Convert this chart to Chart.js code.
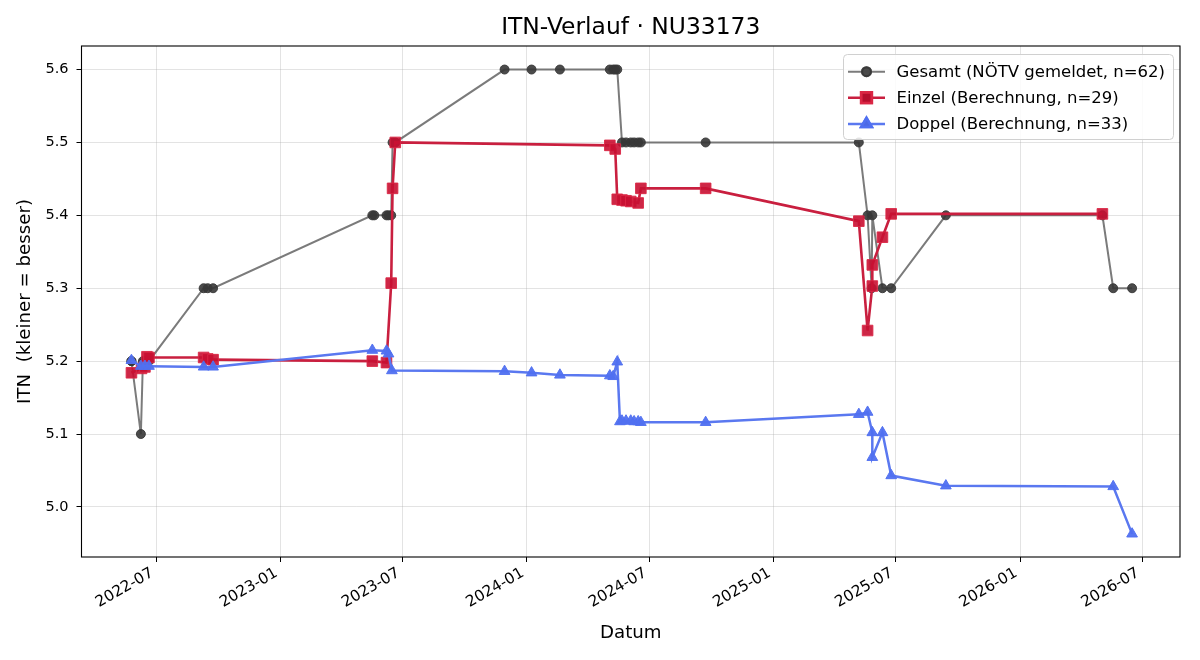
<!DOCTYPE html>
<html>
<head>
<meta charset="utf-8">
<script src="https://cdn.jsdelivr.net/npm/chart.js@4.4.1/dist/chart.umd.min.js"></script>
<style>
  html, body { margin: 0; padding: 0; background: #fff; }
  #wrap { width: 1200px; height: 660px; }
</style>
</head>
<body>
<div id="wrap"><canvas id="itnChart" width="1200" height="660"></canvas></div>
<script>
// --- data ---
const chartTitle = 'ITN-Verlauf · NU33173';
const xAxisTitle = 'Datum';
const yAxisTitle = 'ITN  (kleiner = besser)';

const xTickLabels = ['2022-07', '2023-01', '2023-07', '2024-01', '2024-07', '2025-01', '2025-07', '2026-01', '2026-07'];
const yTicks = [5.0, 5.1, 5.2, 5.3, 5.4, 5.5, 5.6];
const xRange = ['2022-03-12', '2026-08-26'];
const yRange = [4.9313, 5.6323];

const gesamtLabel = 'Gesamt (NÖTV gemeldet, n=62)';
const gesamtDates = [
    '2022-05-25', '2022-05-25', '2022-06-08', '2022-06-11', '2022-06-14', '2022-06-17', '2022-06-20',
    '2022-09-09', '2022-09-15', '2022-09-23',
    '2023-05-17', '2023-05-20', '2023-06-07', '2023-06-10', '2023-06-14', '2023-06-16', '2023-06-20',
    '2023-11-29', '2024-01-08', '2024-02-19', '2024-05-03', '2024-05-08', '2024-05-11', '2024-05-14',
    '2024-05-21', '2024-05-27', '2024-06-03', '2024-06-08', '2024-06-14', '2024-06-18', '2024-09-22',
    '2025-05-07', '2025-05-20', '2025-05-26', '2025-05-27', '2025-06-11', '2025-06-24',
    '2025-09-13', '2026-05-03', '2026-05-19', '2026-06-16'
];
const gesamtValues = [
    5.2, 5.2, 5.1, 5.2, 5.2, 5.2, 5.2,
    5.3, 5.3, 5.3,
    5.4, 5.4, 5.4, 5.4, 5.4, 5.5, 5.5,
    5.6, 5.6, 5.6, 5.6, 5.6, 5.6, 5.6,
    5.5, 5.5, 5.5, 5.5, 5.5, 5.5, 5.5,
    5.5, 5.4, 5.3, 5.4, 5.3, 5.3,
    5.4, 5.4, 5.3, 5.3
];

const einzelLabel = 'Einzel (Berechnung, n=29)';
const einzelDates = [
    '2022-05-25', '2022-06-09', '2022-06-14', '2022-06-17', '2022-06-20',
    '2022-09-09', '2022-09-15', '2022-09-23',
    '2023-05-17', '2023-06-07', '2023-06-14', '2023-06-16', '2023-06-20',
    '2024-05-03', '2024-05-11', '2024-05-14', '2024-05-21', '2024-05-27', '2024-06-03', '2024-06-14', '2024-06-18',
    '2024-09-22',
    '2025-05-07', '2025-05-20', '2025-05-27', '2025-05-27', '2025-06-11', '2025-06-24',
    '2026-05-03'
];
const einzelValues = [
    5.184, 5.190, 5.192, 5.206, 5.205,
    5.205, 5.203, 5.202,
    5.200, 5.198, 5.307, 5.437, 5.500,
    5.496, 5.491, 5.422, 5.421, 5.420, 5.419, 5.417, 5.437,
    5.437,
    5.392, 5.242, 5.303, 5.332, 5.370, 5.402,
    5.402
];

const doppelLabel = 'Doppel (Berechnung, n=33)';
const doppelDates = [
    '2022-05-25', '2022-06-08', '2022-06-14', '2022-06-20',
    '2022-09-09', '2022-09-23',
    '2023-05-17', '2023-06-07', '2023-06-10', '2023-06-15',
    '2023-11-29', '2024-01-08', '2024-02-19',
    '2024-05-03', '2024-05-08', '2024-05-14', '2024-05-18', '2024-05-21', '2024-05-27', '2024-06-03',
    '2024-06-08', '2024-06-14', '2024-06-18', '2024-09-22',
    '2025-05-07', '2025-05-20', '2025-05-27', '2025-05-27', '2025-06-11', '2025-06-24',
    '2025-09-13', '2026-05-19', '2026-06-16'
];
const doppelValues = [
    5.201, 5.193, 5.193, 5.193,
    5.192, 5.192,
    5.215, 5.214, 5.210, 5.187,
    5.186, 5.184, 5.181,
    5.180, 5.179, 5.199, 5.117, 5.118, 5.118, 5.118,
    5.117, 5.117, 5.116, 5.116,
    5.127, 5.130, 5.102, 5.068, 5.102, 5.043,
    5.029, 5.028, 4.963
];

const FONT = "'DejaVu Sans', sans-serif";

function toPoints(dates, values) {
    return dates.map((d, i) => ({ x: Date.parse(d), y: values[i] }));
}

function fmtMonth(v) {
    return new Date(v).toISOString().slice(0, 7);
}

const series = [
    {
        label: gesamtLabel, data: toPoints(gesamtDates, gesamtValues),
        borderColor: 'rgba(100,100,100,0.85)', backgroundColor: 'rgba(55,55,55,0.9)',
        pointBorderColor: 'rgba(55,55,55,0.9)', borderWidth: 2, pointStyle: 'circle', pointRadius: 4.5, order: 3
    },
    {
        label: einzelLabel, data: toPoints(einzelDates, einzelValues),
        borderColor: '#c91f3f', backgroundColor: 'rgba(200,16,50,0.9)',
        pointBorderColor: 'rgba(220,40,70,0.9)', borderWidth: 2.6, pointStyle: 'rect', pointRadius: 7.5, order: 2
    },
    {
        label: doppelLabel, data: toPoints(doppelDates, doppelValues),
        borderColor: '#5a78f0', backgroundColor: 'rgba(80,112,240,0.95)',
        pointBorderColor: 'rgba(80,112,240,0.95)', borderWidth: 2.5, pointStyle: 'triangle', pointRadius: 6.2, order: 1
    }
];

// frame, axis titles, title and matplotlib-like legend
const decorPlugin = {
    id: 'decor',
    afterDraw(chart) {
        const { ctx, chartArea: a } = chart;
        ctx.save();
        ctx.strokeStyle = '#000';
        ctx.lineWidth = 1.1;
        ctx.strokeRect(a.left, a.top, a.right - a.left, a.bottom - a.top);

        ctx.fillStyle = '#000';
        ctx.textAlign = 'center';
        ctx.textBaseline = 'middle';
        ctx.font = `23.4px ${FONT}`;
        ctx.fillText(chartTitle, (a.left + a.right) / 2, 28);

        ctx.font = `18.2px ${FONT}`;
        ctx.fillText(xAxisTitle, (a.left + a.right) / 2, 633);

        ctx.save();
        ctx.translate(25, (a.top + a.bottom) / 2);
        ctx.rotate(-Math.PI / 2);
        ctx.fillText(yAxisTitle, 0, 0);
        ctx.restore();

        // legend box
        const lx = 843.5, ly = 54.5, lw = 330, lh = 85;
        ctx.beginPath();
        ctx.roundRect(lx, ly, lw, lh, 4);
        ctx.fillStyle = 'rgba(255,255,255,0.85)';
        ctx.fill();
        ctx.strokeStyle = '#d0d0d0';
        ctx.lineWidth = 1;
        ctx.stroke();

        const rows = [71.7, 97.7, 124];
        chart.data.datasets.forEach((ds, i) => {
            const y = rows[i];
            ctx.beginPath();
            ctx.moveTo(848, y);
            ctx.lineTo(885, y);
            ctx.strokeStyle = ds.borderColor;
            ctx.lineWidth = ds.borderWidth;
            ctx.stroke();
            Chart.helpers.drawPoint(ctx, {
                pointStyle: ds.pointStyle, radius: ds.pointRadius, borderWidth: 1, rotation: 0
            }, 866.5, y);
            ctx.fillStyle = ds.backgroundColor;
            ctx.strokeStyle = ds.pointBorderColor;
            ctx.fill();
            ctx.stroke();
            ctx.fillStyle = '#000';
            ctx.textAlign = 'left';
            ctx.font = `16.5px ${FONT}`;
            ctx.fillText(ds.label, 896.5, y + 1);
        });
        ctx.restore();
    }
};

const cfg = {
    type: 'line',
    data: {
        datasets: series.map(s => ({
            ...s,
            pointBackgroundColor: s.backgroundColor,
            pointBorderWidth: 1,
            pointHoverRadius: s.pointRadius,
            fill: false,
            tension: 0
        }))
    },
    options: {
        responsive: false,
        animation: false,
        devicePixelRatio: 1,
        layout: { padding: { top: 46, right: 20, left: 0, bottom: 0 } },
        plugins: {
            legend: { display: false },
            tooltip: { enabled: false },
            title: { display: false }
        },
        scales: {
            x: {
                type: 'linear',
                min: Date.parse(xRange[0]),
                max: Date.parse(xRange[1]),
                afterBuildTicks: scale => {
                    scale.ticks = xTickLabels.map(l => ({ value: Date.parse(l + '-01') }));
                },
                afterFit: scale => { scale.height = 103; },
                ticks: {
                    autoSkip: false,
                    minRotation: 30,
                    maxRotation: 30,
                    color: '#000',
                    padding: 2,
                    labelOffset: -4,
                    font: { family: FONT, size: 15.3 },
                    callback: v => fmtMonth(v)
                },
                grid: {
                    color: 'rgba(176,176,176,0.35)',
                    lineWidth: 1,
                    drawTicks: true,
                    tickLength: 5,
                    tickColor: '#000',
                    tickWidth: 1
                },
                border: { display: false }
            },
            y: {
                min: yRange[0],
                max: yRange[1],
                afterBuildTicks: scale => {
                    scale.ticks = yTicks.map(v => ({ value: v }));
                },
                afterFit: scale => { scale.width = 81.5; },
                ticks: {
                    color: '#000',
                    padding: 8,
                    font: { family: FONT, size: 14.5 },
                    callback: v => v.toFixed(1)
                },
                grid: {
                    color: 'rgba(176,176,176,0.35)',
                    lineWidth: 1,
                    drawTicks: true,
                    tickLength: 5,
                    tickColor: '#000',
                    tickWidth: 1
                },
                border: { display: false }
            }
        }
    },
    plugins: [decorPlugin]
};

new Chart(document.getElementById('itnChart'), cfg);
</script>
</body>
</html>
